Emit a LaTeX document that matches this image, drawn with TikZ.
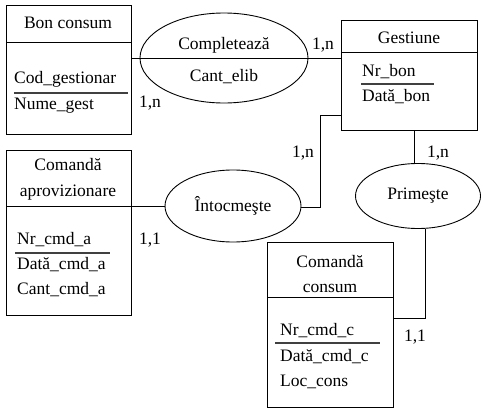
\documentclass[tikz,border=0pt]{standalone}
\usepackage{fontspec}
\setmainfont{Liberation Serif}
\newfontfamily\erfont{Liberation Serif}
\usetikzlibrary{shapes.geometric}
\begin{document}
\begin{tikzpicture}[x=1pt,y=-1pt,
  every node/.style={font=\erfont\fontsize{17.5}{20}\selectfont, inner sep=0pt},
  ent/.style={draw, line width=1pt, rectangle, anchor=north west},
  rel/.style={draw, line width=0.9pt, ellipse},
  ln/.style={line width=1pt},
  ul/.style={line width=1.3pt, black!75},
  attr/.style={anchor=west},
  card/.style={anchor=center}]
\useasboundingbox (0,0) rectangle (483,410);
% entities
\node[ent, minimum width=125pt, minimum height=129pt] (bon) at (6,5) {};
\node[ent, minimum width=136pt, minimum height=110pt] (gest) at (341,20) {};
\node[ent, minimum width=125pt, minimum height=165pt] (cma) at (6,150) {};
\node[ent, minimum width=126pt, minimum height=165pt] (cmc) at (267,242) {};
% header dividers
\coordinate (bh) at (0,42);
\coordinate (gh) at (0,52);
\coordinate (ah) at (0,206);
\coordinate (ch) at (0,297);
\draw[ln] (bon.west |- bh) -- (bon.east |- bh);
\draw[ln] (gest.west |- gh) -- (gest.east |- gh);
\draw[ln] (cma.west |- ah) -- (cma.east |- ah);
\draw[ln] (cmc.west |- ch) -- (cmc.east |- ch);
% titles
\node (t1) at (68,23) {Bon consum};
\node (t2) at (409,38) {Gestiune};
\node (t3a) at (68,165) {Comandă};
\node (t3b) at (68,193) {aprovizionare};
\node (t4a) at (330,262) {Comandă};
\node (t4b) at (330,288) {consum};
% attributes
\node[attr] (a1) at (14,79) {Cod\_gestionar};
\node[attr] (a2) at (14,106) {Nume\_gest};
\node[attr] (g1) at (362,72) {Nr\_bon};
\node[attr] (g2) at (362,97) {Dată\_bon};
\node[attr] (c1) at (17,240) {Nr\_cmd\_a};
\node[attr] (c2) at (17,265) {Dată\_cmd\_a};
\node[attr] (c3) at (17,290) {Cant\_cmd\_a};
\node[attr] (d1) at (280,331) {Nr\_cmd\_c};
\node[attr] (d2) at (280,357) {Dată\_cmd\_c};
\node[attr] (d3) at (280,382) {Loc\_cons};
% key underlines
\coordinate (u1a) at (14,93); \coordinate (u1b) at (128,93);
\coordinate (u2a) at (361,84); \coordinate (u2b) at (434,84);
\coordinate (u3a) at (15,253); \coordinate (u3b) at (110,253);
\coordinate (u4a) at (275,343); \coordinate (u4b) at (380,343);
\draw[ul] (u1a) -- (u1b);
\draw[ul] (u2a) -- (u2b);
\draw[ul] (u3a) -- (u3b);
\draw[ul] (u4a) -- (u4b);
% relationships
\node[rel, minimum width=168pt, minimum height=90pt] (comp) at (224,58) {};
\node (comp1) at (224,45) {Completează};
\node (comp2) at (224,77) {Cant\_elib};
\node[rel, minimum width=136pt, minimum height=72pt] (into) at (233,206) {Întocmeşte};
\node[rel, minimum width=125pt, minimum height=65pt] (prim) at (418,196) {Primeşte};
% connectors
\draw[ln] (bon.east |- comp.center) -- (gest.west |- comp.center);
\draw[ln] (cma.east |- into.west) -- (into.west);
\coordinate (k1) at (320,207);
\coordinate (k2) at (320,115);
\draw[ln] (into.east |- k1) -- (k1) -- (k2) -- (gest.west |- k2);
\coordinate (k3) at (414,0);
\draw[ln] (gest.south -| k3) -- (prim.north -| k3);
\coordinate (k4) at (425,318);
\draw[ln] (prim.south -| k4) -- (k4) -- (cmc.east |- k4);
% cardinalities
\node[card] (n1) at (150,103) {1,n};
\node[card] (n2) at (323,45) {1,n};
\node[card] (n3) at (303,153) {1,n};
\node[card] (n4) at (438,153) {1,n};
\node[card] (n5) at (150,240) {1,1};
\node[card] (n6) at (415,337) {1,1};
\end{tikzpicture}
\end{document}
